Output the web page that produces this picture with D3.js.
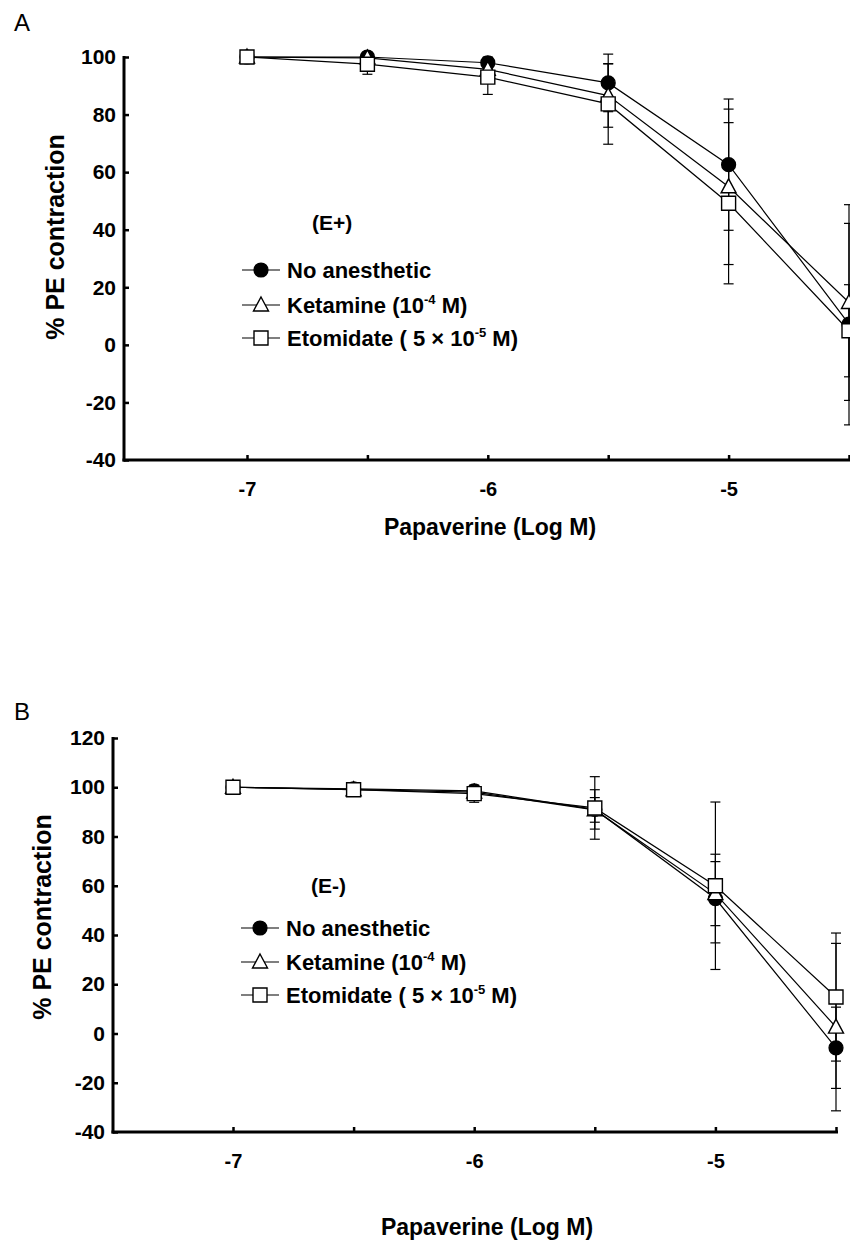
<!DOCTYPE html>
<html>
<head>
<meta charset="utf-8">
<script src="https://cdn.jsdelivr.net/npm/d3@7"></script>
<style>
  body { margin: 0; background: #fff; }
  svg text { font-family: "Liberation Sans", Arial, sans-serif; fill: #000; }
</style>
</head>
<body>
<svg id="chart" width="850" height="1248"></svg>
<script>
// papaverine concentrations (log M)
const logConc = [-7, -6.5, -6, -5.5, -5, -4.5];
const xTickValues = [-7, -6.5, -6, -5.5, -5, -4.5];
const xTickLabels = ["-7", "", "-6", "", "-5", ""];

// panel A, endothelium intact (E+)
const aNoAnesthetic = [100, 100, 98, 91, 62.6, 7.2];
const aNoAnestheticSem = [0, 0.5, 2, 10, 22.8, 35];
const aKetamine = [100, 99.7, 95.7, 86.6, 54.9, 14.7];
const aKetamineSem = [0, 0.5, 1.5, 11, 27, 34];
const aEtomidate = [100, 97.5, 93, 83.7, 49.2, 4.9];
const aEtomidateSem = [0, 3.5, 6, 14, 28, 16];
const aYTicks = [100, 80, 60, 40, 20, 0, -20, -40];

// panel B, endothelium denuded (E-)
const bNoAnesthetic = [100, 99.3, 98.5, 91, 54.8, -5.8];
const bNoAnestheticSem = [0, 1, 1.5, 8, 18, 16.5];
const bKetamine = [100, 99, 98, 90.8, 56.8, 2.6];
const bKetamineSem = [0, 1, 1.5, 5, 13, 34];
const bEtomidate = [100, 99, 97.4, 91.6, 60, 14.8];
const bEtomidateSem = [0, 1, 3.5, 12.7, 34, 26];
const bYTicks = [120, 100, 80, 60, 40, 20, 0, -20, -40];

const svg = d3.select("#chart");

function drawPanel(p) {
    let g = svg.append("g");

    let x = d3.scaleLinear().domain([-7, -4.5]).range([p.x7, p.x45]);
    let y = d3.scaleLinear().domain([p.yTicks[p.yTicks.length - 1], p.yTicks[0]]).range([p.bottom, p.top]);

    // panel letter
    g.append("text").attr("x", 14).attr("y", p.letterY)
        .style("font-size", "24px").text(p.letter);

    // y axis
    let yAxis = d3.axisLeft(y).tickValues(p.yTicks).tickFormat(d => String(d))
        .tickSizeInner(-5).tickSizeOuter(0).tickPadding(8);
    let ya = g.append("g").attr("transform", `translate(${p.axisX},0)`).call(yAxis);
    ya.select(".domain").remove();
    ya.selectAll(".tick line").attr("stroke-width", 2.5);
    ya.selectAll(".tick text").style("font-size", "21px").style("font-weight", "bold");
    g.append("line").attr("x1", p.axisX).attr("x2", p.axisX)
        .attr("y1", y(p.yTicks[0]) - 1).attr("y2", p.bottom + 1.5)
        .attr("stroke", "#000").attr("stroke-width", 3);

    // x axis
    let xAxis = d3.axisBottom(x).tickValues(xTickValues)
        .tickFormat((d, i) => xTickLabels[i])
        .tickSizeInner(-5).tickSizeOuter(0).tickPadding(22);
    let xa = g.append("g").attr("transform", `translate(0,${p.bottom})`).call(xAxis);
    xa.select(".domain").remove();
    xa.selectAll(".tick line").attr("stroke-width", 2.5);
    xa.selectAll(".tick text").style("font-size", "20px").style("font-weight", "bold");
    g.append("line").attr("x1", p.axisX - 1.5).attr("x2", p.xAxisEnd)
        .attr("y1", p.bottom).attr("y2", p.bottom)
        .attr("stroke", "#000").attr("stroke-width", 3);

    // axis titles
    g.append("text").attr("x", p.xTitleX).attr("y", p.xTitleY)
        .attr("text-anchor", "middle").style("font-size", "23px").style("font-weight", "bold")
        .text("Papaverine (Log M)");
    g.append("text")
        .attr("transform", `translate(${p.yTitleX},${p.yTitleY}) rotate(-90)`)
        .attr("text-anchor", "middle").style("font-size", "25px").style("font-weight", "bold")
        .text("% PE contraction");

    let line = d3.line().x(d => x(d.c)).y(d => y(d.v));
    let toPts = (vals, sems) => vals.map((v, i) => ({ c: logConc[i], v: v, s: sems[i] }));

    // error bars
    p.series.forEach(s => {
        let pts = toPts(s.values, s.sem).filter(d => d.s > 0);
        let eb = g.append("g").attr("stroke", "#000").attr("stroke-width", 1.2);
        eb.selectAll(".stem").data(pts).join("line")
            .attr("x1", d => x(d.c)).attr("x2", d => x(d.c))
            .attr("y1", d => y(d.v + d.s)).attr("y2", d => y(d.v - d.s));
        eb.selectAll(".capTop").data(pts).join("line")
            .attr("x1", d => x(d.c) - 5).attr("x2", d => x(d.c) + 5)
            .attr("y1", d => y(d.v + d.s)).attr("y2", d => y(d.v + d.s));
        eb.selectAll(".capBot").data(pts).join("line")
            .attr("x1", d => x(d.c) - 5).attr("x2", d => x(d.c) + 5)
            .attr("y1", d => y(d.v - d.s)).attr("y2", d => y(d.v - d.s));
    });

    // connecting lines
    p.series.forEach(s => {
        g.append("path").datum(toPts(s.values, s.sem))
            .attr("d", line).attr("fill", "none")
            .attr("stroke", "#000").attr("stroke-width", 1.2);
    });

    // markers
    p.series.forEach(s => {
        let pts = toPts(s.values, s.sem);
        g.selectAll(null).data(pts).join("path")
            .attr("transform", d => `translate(${x(d.c)},${y(d.v)})`)
            .attr("d", markerPath(s.shape))
            .attr("fill", s.shape === "circle" ? "#000" : "#fff")
            .attr("stroke", "#000").attr("stroke-width", 1.4);
    });

    // legend
    g.append("text").attr("x", p.legendX + 70).attr("y", p.legendTitleY + 8)
        .style("font-size", "21px").style("font-weight", "bold").text(p.condition);
    p.series.forEach((s, i) => {
        let ly = p.legendRows[i];
        g.append("line").attr("x1", p.legendX).attr("x2", p.legendX + 38)
            .attr("y1", ly).attr("y2", ly).attr("stroke", "#000").attr("stroke-width", 1.2);
        g.append("path").attr("transform", `translate(${p.legendX + 19},${ly})`)
            .attr("d", markerPath(s.shape))
            .attr("fill", s.shape === "circle" ? "#000" : "#fff")
            .attr("stroke", "#000").attr("stroke-width", 1.4);
        let t = g.append("text").attr("x", p.legendX + 45).attr("y", ly + 8)
            .style("font-size", "22px").style("font-weight", "bold");
        let lift = 0;
        s.label.forEach(part => {
            if (part.sup) {
                t.append("tspan").attr("dy", -9).style("font-size", "13px").text(part.sup);
                lift = 9;
            } else {
                t.append("tspan").attr("dy", lift).text(part.text);
                lift = 0;
            }
        });
    });
}

function markerPath(shape) {
    if (shape === "circle") return d3.symbol(d3.symbolCircle, 150)();
    if (shape === "square") return "M-7,-7H7V7H-7Z";
    return "M0,-8L7.5,6H-7.5Z";
}

const labelNone = [{ text: "No anesthetic" }];
const labelKet = [{ text: "Ketamine (10" }, { sup: "-4" }, { text: " M)" }];
const labelEto = [{ text: "Etomidate ( 5 \u00d7 10" }, { sup: "-5" }, { text: " M)" }];

drawPanel({
    letter: "A", letterY: 31, condition: "(E+)",
    yTicks: aYTicks, top: 57, bottom: 460, axisX: 124,
    x7: 247, x45: 849, xAxisEnd: 850,
    xTitleX: 490, xTitleY: 535, yTitleX: 64, yTitleY: 237,
    legendX: 242, legendTitleY: 222, legendRows: [270, 305, 338],
    series: [
        { shape: "circle", values: aNoAnesthetic, sem: aNoAnestheticSem, label: labelNone },
        { shape: "triangle", values: aKetamine, sem: aKetamineSem, label: labelKet },
        { shape: "square", values: aEtomidate, sem: aEtomidateSem, label: labelEto }
    ]
});

drawPanel({
    letter: "B", letterY: 720, condition: "(E-)",
    yTicks: bYTicks, top: 738, bottom: 1132, axisX: 113,
    x7: 233, x45: 836, xAxisEnd: 838,
    xTitleX: 487, xTitleY: 1235, yTitleX: 51, yTitleY: 917,
    legendX: 241, legendTitleY: 885, legendRows: [928, 962, 995],
    series: [
        { shape: "circle", values: bNoAnesthetic, sem: bNoAnestheticSem, label: labelNone },
        { shape: "triangle", values: bKetamine, sem: bKetamineSem, label: labelKet },
        { shape: "square", values: bEtomidate, sem: bEtomidateSem, label: labelEto }
    ]
});
</script>
</body>
</html>
